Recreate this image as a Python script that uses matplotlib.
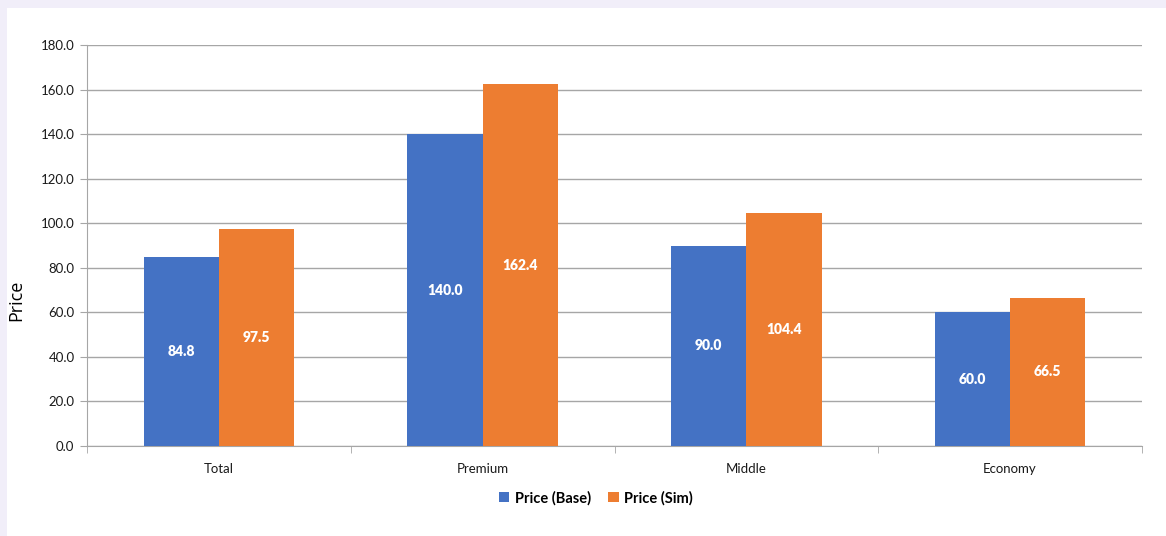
import numpy as np
import matplotlib.pyplot as plt
from matplotlib.patches import Rectangle
from matplotlib.ticker import FormatStrFormatter

# data
categories = ['Total', 'Premium', 'Middle', 'Economy']
price_base = [84.8, 140.0, 90.0, 60.0]
price_sim = [97.5, 162.4, 104.4, 66.5]
series_names = ['Price (Base)', 'Price (Sim)']

blue = '#4472C4'
orange = '#ED7D31'
grid_col = '#a6a6a6'
plt.rcParams['font.family'] = ['Lato', 'DejaVu Sans']

fig = plt.figure(figsize=(11.66, 5.36), dpi=100)
fig.patch.set_facecolor('#f1eef9')
# white chart panel inside the lavender frame
fig.patches.append(Rectangle((7 / 1166, 0), 1, 1 - 8 / 536, transform=fig.transFigure,
                             facecolor='white', edgecolor='none', zorder=-10))

ax = fig.add_axes([87 / 1166, 1 - 446 / 536, 1055 / 1166, 401 / 536])
ax.set_facecolor('none')

x = np.arange(len(categories))
w = 0.285
b1 = ax.bar(x - w / 2, price_base, w, color=blue, label=series_names[0], zorder=3)
b2 = ax.bar(x + w / 2, price_sim, w, color=orange, label=series_names[1], zorder=3)

# value labels in the middle of each bar
for bars in (b1, b2):
    for r in bars:
        h = r.get_height()
        ax.text(r.get_x() + r.get_width() / 2, h / 2, f'{h:.1f}', ha='center', va='center',
                color='white', fontsize=10, fontweight='heavy', zorder=4)

ax.set_xlim(-0.5, len(categories) - 0.5)
ax.set_ylim(0, 180)
ax.set_yticks(np.arange(0, 181, 20))
ax.yaxis.set_major_formatter(FormatStrFormatter('%.1f'))
ax.grid(axis='y', color=grid_col, linewidth=1, zorder=0)

ax.set_xticks(x)
ax.set_xticklabels(categories)
ax.set_xticks(np.arange(-0.5, len(categories), 1), minor=True)
ax.tick_params(axis='x', which='major', length=0, pad=12, labelsize=9.5, labelcolor='#1a1a1a')
ax.tick_params(axis='x', which='minor', length=5, color=grid_col, direction='out')
ax.tick_params(axis='y', length=5, color=grid_col, labelsize=9.5, labelcolor='#1a1a1a', pad=4)

for s in ['top', 'right']:
    ax.spines[s].set_visible(False)
ax.spines['left'].set_color(grid_col)
ax.spines['bottom'].set_color(grid_col)

fig.text(16 / 1166, 1 - 300 / 536, 'Price', rotation=90, ha='center', va='center',
         fontsize=13, family=['Open Sans', 'DejaVu Sans'], color='black')

leg = fig.legend(loc='center', bbox_to_anchor=(596 / 1166, 1 - 498 / 536), ncol=2,
                 frameon=False, handlelength=0.7, handleheight=0.7, handletextpad=0.4,
                 columnspacing=1.2, prop={'weight': 'bold', 'size': 10.5})

fig.savefig('out.png', dpi=100, facecolor=fig.get_facecolor())
